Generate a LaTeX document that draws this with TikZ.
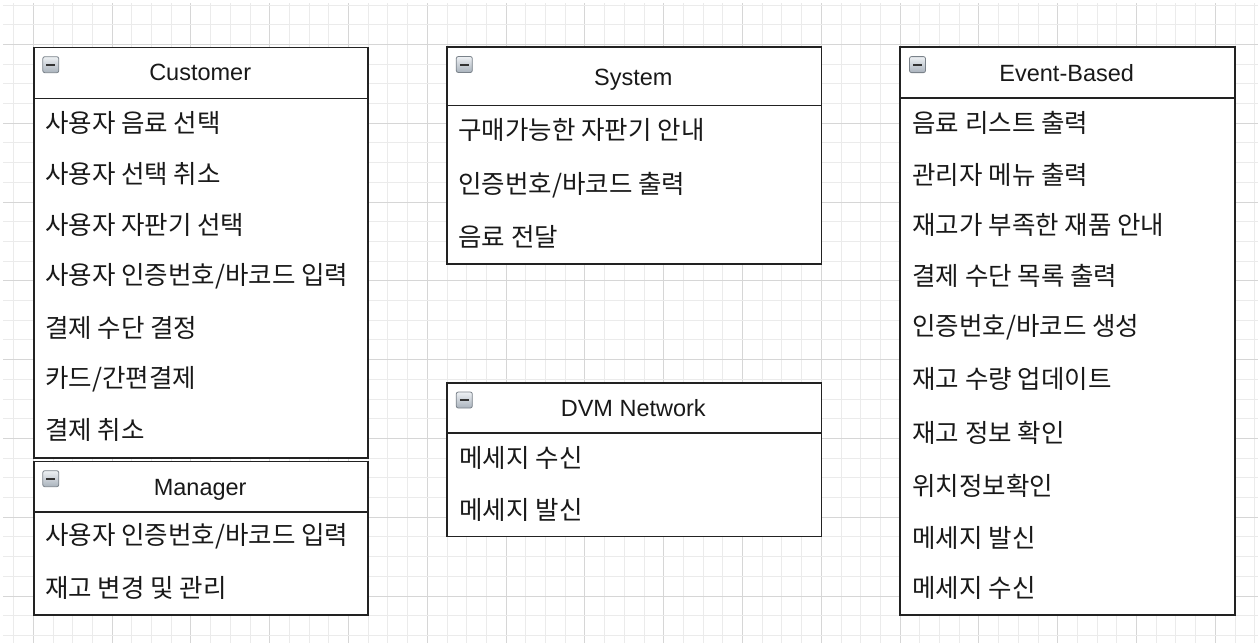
\documentclass[tikz,border=0pt]{standalone}
\usepackage{fontspec}
\setmainfont{Liberation Sans}
\newfontfamily\krfont{Noto Sans CJK KR}
\definecolor{gridminor}{HTML}{EBEBEB}
\definecolor{gridmajor}{HTML}{D6D6D6}
\definecolor{boxline}{HTML}{222222}
\definecolor{icontop}{HTML}{EEF1F4}
\definecolor{iconbot}{HTML}{A9B2BC}
\definecolor{iconline}{HTML}{7A828A}
\begin{document}
\begin{tikzpicture}[x=1pt,y=-1pt,
  umlbox/.style={draw=boxline, line width=1.6pt, rectangle, inner sep=0pt, anchor=north west},
  sepline/.style={draw=boxline, line width=1.6pt},
  titletext/.style={font=\fontsize{23.5}{28}\selectfont, text=black!90, inner sep=0pt, text height=16.8pt, text depth=0pt},
  itemtext/.style={font=\krfont\fontsize{25.5}{30}\selectfont, text=black!90, anchor=west, inner sep=0pt},
  iconbox/.style={draw=iconline, line width=0.8pt, rounded corners=2pt, minimum size=16pt, inner sep=0pt,
    top color=icontop, bottom color=iconbot,
    path picture={\draw[line width=2pt, black!80] ([xshift=-4.5pt]path picture bounding box.center) -- ([xshift=4.5pt]path picture bounding box.center);}}
]
\useasboundingbox (0,0) rectangle (1258,643);
\fill[white] (0,0) rectangle (1258,643);
% grid
\foreach \k in {0,...,63} {
  \pgfmathsetmacro{\gx}{13.6+19.7*\k}
  \pgfmathtruncatemacro{\m}{mod(\k+3,4)}
  \ifnum\m=0
    \draw[gridmajor, line width=1pt] (\gx,3) -- (\gx,643);
  \else
    \draw[gridminor, line width=1pt] (\gx,3) -- (\gx,643);
  \fi
}
\foreach \k in {0,...,32} {
  \pgfmathsetmacro{\gy}{5+19.7*\k}
  \pgfmathtruncatemacro{\m}{mod(\k+2,4)}
  \ifnum\m=0
    \draw[gridmajor, line width=1pt] (3,\gy) -- (1258,\gy);
  \else
    \draw[gridminor, line width=1pt] (3,\gy) -- (1258,\gy);
  \fi
}

% Customer
\node[umlbox, fill=white, minimum width=334.3pt, minimum height=410.3pt] (cust) at (33,46.7) {};
\draw[sepline] (cust.north west |- 0,98.3) -- (cust.north east |- 0,98.3);
\node[iconbox] (custI) at (50.8,64.7) {};
\node[titletext] (custT) at (200.2,72.5) {Customer};
\node[itemtext] (c1) at (45,122.5) {사용자 음료 선택};
\node[itemtext] (c2) at (45,173.8) {사용자 선택 취소};
\node[itemtext] (c3) at (45,225.1) {사용자 자판기 선택};
\node[itemtext] (c4) at (45,276.4) {사용자 인증번호/바코드 입력};
\node[itemtext] (c5) at (45,327.7) {결제 수단 결정};
\node[itemtext] (c6) at (45,379) {카드/간편결제};
\node[itemtext] (c7) at (45,430.3) {결제 취소};

% Manager
\node[umlbox, fill=white, minimum width=334.3pt, minimum height=153.3pt] (mgr) at (33,460.7) {};
\draw[sepline] (mgr.north west |- 0,511.7) -- (mgr.north east |- 0,511.7);
\node[iconbox] (mgrI) at (50.8,478.7) {};
\node[titletext] (mgrT) at (200.2,486.7) {Manager};
\node[itemtext] (m1) at (45,536.7) {사용자 인증번호/바코드 입력};
\node[itemtext] (m2) at (45,588.3) {재고 변경 및 관리};

% System
\node[umlbox, fill=white, minimum width=374.7pt, minimum height=217.3pt] (sys) at (446,46) {};
\draw[sepline] (sys.north west |- 0,105.3) -- (sys.north east |- 0,105.3);
\node[iconbox] (sysI) at (464.3,64.5) {};
\node[titletext] (sysT) at (633.3,76.7) {System};
\node[itemtext] (s1) at (458.3,130) {구매가능한 자판기 안내};
\node[itemtext] (s2) at (458.3,185) {인증번호/바코드 출력};
\node[itemtext] (s3) at (458.3,236.7) {음료 전달};

% DVM Network
\node[umlbox, fill=white, minimum width=374.7pt, minimum height=153.4pt] (dvm) at (446,382.3) {};
\draw[sepline] (dvm.north west |- 0,432.7) -- (dvm.north east |- 0,432.7);
\node[iconbox] (dvmI) at (464.3,400) {};
\node[titletext] (dvmT) at (633.3,408.3) {DVM Network};
\node[itemtext] (d1) at (459.3,458.3) {메세지 수신};
\node[itemtext] (d2) at (459.3,510) {메세지 발신};

% Event-Based
\node[umlbox, fill=white, minimum width=334.7pt, minimum height=568pt] (evt) at (899.3,46) {};
\draw[sepline] (evt.north west |- 0,97.7) -- (evt.north east |- 0,97.7);
\node[iconbox] (evtI) at (917.5,64.6) {};
\node[titletext] (evtT) at (1066.7,72.7) {Event-Based};
\node[itemtext] (e1) at (912.3,123) {음료 리스트 출력};
\node[itemtext] (e2) at (912.3,174.5) {관리자 메뉴 출력};
\node[itemtext] (e3) at (912.3,225) {재고가 부족한 재품 안내};
\node[itemtext] (e4) at (912.3,276.3) {결제 수단 목록 출력};
\node[itemtext] (e5) at (912.3,327.5) {인증번호/바코드 생성};
\node[itemtext] (e6) at (912.3,378.7) {재고 수량 업데이트};
\node[itemtext] (e7) at (912.3,433.3) {재고 정보 확인};
\node[itemtext] (e8) at (912.3,486) {위치정보확인};
\node[itemtext] (e9) at (912.3,538) {메세지 발신};
\node[itemtext] (e10) at (912.3,588.3) {메세지 수신};
\end{tikzpicture}
\end{document}
